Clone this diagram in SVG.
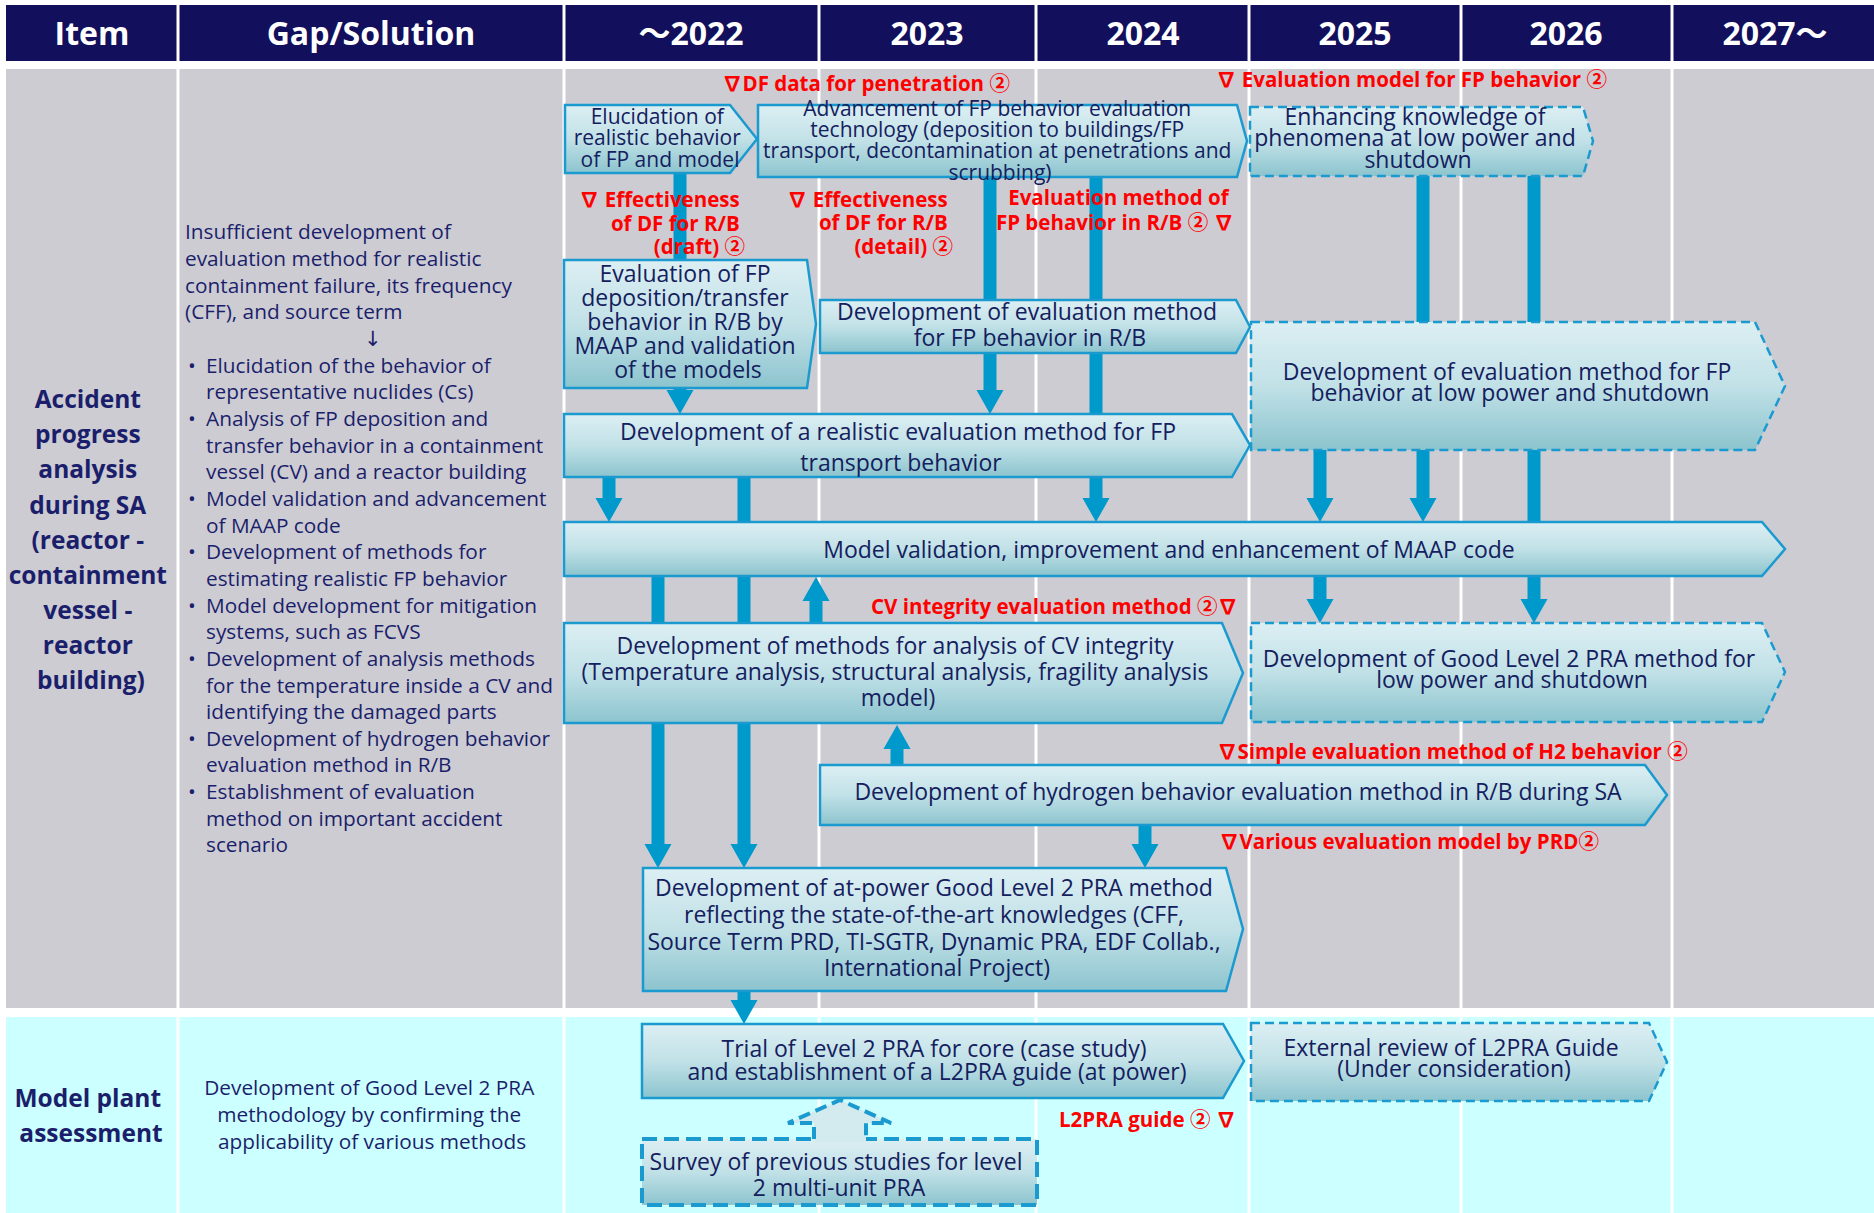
<svg xmlns="http://www.w3.org/2000/svg" width="1874" height="1213" viewBox="0 0 1874 1213">
  <defs>
    <linearGradient id="boxFill" x1="0" y1="0" x2="0" y2="1">
      <stop offset="0" stop-color="#DCEFF3"/>
      <stop offset="0.5" stop-color="#C1E1E7"/>
      <stop offset="1" stop-color="#8CC4CE"/>
    </linearGradient>
    <style>
      .hdr { fill:#120F5C; }
      .hdrTxt { font-family:"Open Sans","DejaVu Sans","Noto Sans CJK JP",sans-serif; font-weight:700; font-size:32px; fill:#FFFFFF; text-anchor:middle; }
      .div { stroke:#FFFFFF; stroke-width:3; }
      .box { fill:url(#boxFill); stroke:#1B9AD0; stroke-width:2.5; stroke-linejoin:miter; }
      .dash { stroke-dasharray:9 5; }
      .thickdash { stroke-width:4; stroke-dasharray:15 7; }
      .t { font-family:"Open Sans","DejaVu Sans","Noto Sans CJK JP",sans-serif; font-size:23px; fill:#14205E; text-anchor:middle; }
      .ts { font-size:21px; }
      .lbl { font-family:"Open Sans","DejaVu Sans","Noto Sans CJK JP",sans-serif; font-weight:700; font-size:24.5px; fill:#1B1F6B; text-anchor:middle; }
      .gap { font-family:"Open Sans","DejaVu Sans","Noto Sans CJK JP",sans-serif; font-size:20.8px; fill:#1B1F6B; }
      .red { font-family:"Open Sans","Noto Sans CJK JP","DejaVu Sans",sans-serif; font-weight:700; font-size:20.5px; fill:#FF0000; }
      .end { text-anchor:end; }
      .flow { fill:#0099CC; }
    </style>
  </defs>

  <!-- page background -->
  <rect x="0" y="0" width="1874" height="1213" fill="#FFFFFF"/>

  <!-- header row -->
  <g id="header">
    <rect class="hdr" x="6" y="5" width="1868" height="56"/>
    <g class="div">
      <line x1="178" y1="5" x2="178" y2="61"/>
      <line x1="564" y1="5" x2="564" y2="61"/>
      <line x1="819" y1="5" x2="819" y2="61"/>
      <line x1="1036" y1="5" x2="1036" y2="61"/>
      <line x1="1249" y1="5" x2="1249" y2="61"/>
      <line x1="1461" y1="5" x2="1461" y2="61"/>
      <line x1="1672" y1="5" x2="1672" y2="61"/>
    </g>
    <text class="hdrTxt" x="92" y="45">Item</text>
    <text class="hdrTxt" x="371" y="45">Gap/Solution</text>
    <text class="hdrTxt" x="691" y="45">～2022</text>
    <text class="hdrTxt" x="927" y="45">2023</text>
    <text class="hdrTxt" x="1143" y="45">2024</text>
    <text class="hdrTxt" x="1355" y="45">2025</text>
    <text class="hdrTxt" x="1566" y="45">2026</text>
    <text class="hdrTxt" x="1775" y="45">2027～</text>
  </g>

  <!-- row backgrounds and column dividers -->
  <g id="rows">
    <rect x="6" y="69" width="1868" height="939" fill="#CDCCD3"/>
    <rect x="6" y="1017" width="1868" height="196" fill="#CCFFFF"/>
    <g class="div">
      <line x1="178" y1="69" x2="178" y2="1213"/>
      <line x1="564" y1="69" x2="564" y2="1213"/>
      <line x1="819" y1="69" x2="819" y2="1213"/>
      <line x1="1036" y1="69" x2="1036" y2="1213"/>
      <line x1="1249" y1="69" x2="1249" y2="1213"/>
      <line x1="1461" y1="69" x2="1461" y2="1213"/>
      <line x1="1672" y1="69" x2="1672" y2="1213"/>
    </g>
  </g>

  <!-- item labels -->
  <g id="item-accident">
    <text class="lbl">
      <tspan x="91" y="408">Accident</tspan>
      <tspan x="91" y="443">progress</tspan>
      <tspan x="91" y="478">analysis</tspan>
      <tspan x="91" y="514">during SA</tspan>
      <tspan x="91" y="549">(reactor -</tspan>
      <tspan x="91" y="584">containment</tspan>
      <tspan x="91" y="619">vessel -</tspan>
      <tspan x="91" y="654">reactor</tspan>
      <tspan x="91" y="689">building)</tspan>
    </text>
  </g>
  <g id="item-model-plant">
    <text class="lbl">
      <tspan x="91" y="1107">Model plant</tspan>
      <tspan x="91" y="1142">assessment</tspan>
    </text>
  </g>

  <!-- gap / solution texts -->
  <g id="gap-accident">
    <text class="gap">
      <tspan x="185" y="239.4">Insufficient development of</tspan>
      <tspan x="185" y="266.1">evaluation method for realistic</tspan>
      <tspan x="185" y="292.7">containment failure, its frequency</tspan>
      <tspan x="185" y="319.4">(CFF), and source term</tspan>
      <tspan x="364" y="346">↓</tspan>
      <tspan x="188" y="372.7">•</tspan><tspan x="206" y="372.7">Elucidation of the behavior of</tspan>
      <tspan x="206" y="399.3">representative nuclides (Cs)</tspan>
      <tspan x="188" y="426">•</tspan><tspan x="206" y="426">Analysis of FP deposition and</tspan>
      <tspan x="206" y="452.6">transfer behavior in a containment</tspan>
      <tspan x="206" y="479.3">vessel (CV) and a reactor building</tspan>
      <tspan x="188" y="505.9">•</tspan><tspan x="206" y="505.9">Model validation and advancement</tspan>
      <tspan x="206" y="532.6">of MAAP code</tspan>
      <tspan x="188" y="559.2">•</tspan><tspan x="206" y="559.2">Development of methods for</tspan>
      <tspan x="206" y="585.9">estimating realistic FP behavior</tspan>
      <tspan x="188" y="612.5">•</tspan><tspan x="206" y="612.5">Model development for mitigation</tspan>
      <tspan x="206" y="639.2">systems, such as FCVS</tspan>
      <tspan x="188" y="665.8">•</tspan><tspan x="206" y="665.8">Development of analysis methods</tspan>
      <tspan x="206" y="692.5">for the temperature inside a CV and</tspan>
      <tspan x="206" y="719.1">identifying the damaged parts</tspan>
      <tspan x="188" y="745.8">•</tspan><tspan x="206" y="745.8">Development of hydrogen behavior</tspan>
      <tspan x="206" y="772.4">evaluation method in R/B</tspan>
      <tspan x="188" y="799.1">•</tspan><tspan x="206" y="799.1">Establishment of evaluation</tspan>
      <tspan x="206" y="825.7">method on important accident</tspan>
      <tspan x="206" y="852.4">scenario</tspan>
    </text>
  </g>
  <g id="gap-model-plant">
    <text class="gap" text-anchor="middle">
      <tspan x="372" y="1095.4">Development of Good Level 2 PRA</tspan>
      <tspan x="372" y="1122.4">methodology by confirming the</tspan>
      <tspan x="372" y="1149.4">applicability of various methods</tspan>
    </text>
  </g>

  <!-- connectors: block arrows and bars between tasks -->
  <g id="connectors">
    <rect class="flow" x="673.5" y="173" width="13" height="87"/>
    <path class="flow" d="M673.5,388 H686.5 V390 H693.5 L680,414 L666.5,390 H673.5 Z"/>
    <path class="flow" d="M983.5,177 H996.5 V390 H1003.5 L990,414 L976.5,390 H983.5 Z"/>
    <path class="flow" d="M1089.5,177 H1102.5 V498 H1109.5 L1096,522 L1082.5,498 H1089.5 Z"/>
    <rect class="flow" x="1416.5" y="175" width="13" height="148"/>
    <rect class="flow" x="1527.5" y="175" width="13" height="148"/>
    <path class="flow" d="M1313.5,449 H1326.5 V498 H1333.5 L1320,522 L1306.5,498 H1313.5 Z"/>
    <path class="flow" d="M1416.5,449 H1429.5 V498 H1436.5 L1423,522 L1409.5,498 H1416.5 Z"/>
    <rect class="flow" x="1527.5" y="449" width="13" height="74"/>
    <path class="flow" d="M1313.5,575 H1326.5 V599 H1333.5 L1320,623 L1306.5,599 H1313.5 Z"/>
    <path class="flow" d="M1527.5,575 H1540.5 V599 H1547.5 L1534,623 L1520.5,599 H1527.5 Z"/>
    <path class="flow" d="M602.5,476 H615.5 V498 H622.5 L609,522 L595.5,498 H602.5 Z"/>
    <path class="flow" d="M737.5,476 H750.5 V844 H757.5 L744,868 L730.5,844 H737.5 Z"/>
    <path class="flow" d="M651.5,575 H664.5 V844 H671.5 L658,868 L644.5,844 H651.5 Z"/>
    <path class="flow" d="M809.5,624 H822.5 V601 H829.5 L816,577 L802.5,601 H809.5 Z"/>
    <path class="flow" d="M890.5,766 H903.5 V749 H910.5 L897,725 L883.5,749 H890.5 Z"/>
    <path class="flow" d="M1138.5,824 H1151.5 V844 H1158.5 L1145,868 L1131.5,844 H1138.5 Z"/>
    <path class="flow" d="M737.5,990 H750.5 V1000 H757.5 L744,1024 L730.5,1000 H737.5 Z"/>
  </g>

  <!-- tasks -->
  <g id="task-elucidation">
    <path class="box" d="M565,105 H730 L757,139 L730,173 H565 Z"/>
    <text class="t ts">
      <tspan x="660" y="123.6">Elucidation of</tspan>
      <tspan x="660" y="144.6">realistic behavior</tspan>
      <tspan x="660" y="166.6">of FP and model</tspan>
    </text>
  </g>
  <g id="task-advancement">
    <path class="box" d="M758,105 H1237 L1247,141 L1237,177 H758 Z"/>
    <text class="t ts">
      <tspan x="1000" y="115.6">Advancement of FP behavior evaluation</tspan>
      <tspan x="1000" y="136.6">technology (deposition to buildings/FP</tspan>
      <tspan x="1000" y="157.6">transport, decontamination at penetrations and</tspan>
      <tspan x="1000" y="179.6">scrubbing)</tspan>
    </text>
  </g>
  <g id="task-enhancing">
    <path class="box dash" d="M1250,107 H1583 L1593,141 L1583,176 H1250 Z"/>
    <text class="t">
      <tspan x="1418" y="125.3">Enhancing knowledge of</tspan>
      <tspan x="1418" y="146.3">phenomena at low power and</tspan>
      <tspan x="1418" y="168.3">shutdown</tspan>
    </text>
  </g>
  <g id="task-fp-deposition">
    <path class="box" d="M564,260 H807 L816,324 L807,388 H564 Z"/>
    <text class="t">
      <tspan x="688" y="282.3">Evaluation of FP</tspan>
      <tspan x="688" y="306.3">deposition/transfer</tspan>
      <tspan x="688" y="330.3">behavior in R/B by</tspan>
      <tspan x="688" y="354.3">MAAP and validation</tspan>
      <tspan x="688" y="378.3">of the models</tspan>
    </text>
  </g>
  <g id="task-fp-rb">
    <path class="box" d="M820,300 H1236 L1250,327 L1236,353 H820 Z"/>
    <text class="t">
      <tspan x="1030" y="320.3">Development of evaluation method</tspan>
      <tspan x="1030" y="346.3">for FP behavior in R/B</tspan>
    </text>
  </g>
  <g id="task-fp-lowpower">
    <path class="box dash" d="M1251,322 H1755 L1785,386 L1755,450 H1251 Z"/>
    <text class="t">
      <tspan x="1510" y="380.3">Development of evaluation method for FP</tspan>
      <tspan x="1510" y="401.3">behavior at low power and shutdown</tspan>
    </text>
  </g>
  <g id="task-fp-transport">
    <path class="box" d="M564,414 H1232 L1250,445 L1232,477 H564 Z"/>
    <text class="t">
      <tspan x="901" y="440.3">Development of a realistic evaluation method for FP</tspan>
      <tspan x="901" y="471.3">transport behavior</tspan>
    </text>
  </g>
  <g id="task-maap">
    <path class="box" d="M564,522 H1762 L1785,549 L1762,576 H564 Z"/>
    <text class="t" x="1169" y="558.3">Model validation, improvement and enhancement of MAAP code</text>
  </g>
  <g id="task-cv-integrity">
    <path class="box" d="M564,623 H1222 L1243,673 L1222,723 H564 Z"/>
    <text class="t">
      <tspan x="898" y="654.3">Development of methods for analysis of CV integrity</tspan>
      <tspan x="898" y="680.3">(Temperature analysis, structural analysis, fragility analysis</tspan>
      <tspan x="898" y="706.3">model)</tspan>
    </text>
  </g>
  <g id="task-l2pra-lowpower">
    <path class="box dash" d="M1251,623 H1762 L1785,672 L1762,722 H1251 Z"/>
    <text class="t">
      <tspan x="1512" y="667.3">Development of Good Level 2 PRA method for</tspan>
      <tspan x="1512" y="688.3">low power and shutdown</tspan>
    </text>
  </g>
  <g id="task-hydrogen">
    <path class="box" d="M820,765 H1645 L1667,795 L1645,825 H820 Z"/>
    <text class="t" x="1238" y="800.3">Development of hydrogen behavior evaluation method in R/B during SA</text>
  </g>
  <g id="task-l2pra-atpower">
    <path class="box" d="M643,868 H1226 L1243,929 L1226,991 H643 Z"/>
    <text class="t">
      <tspan x="937" y="896.3">Development of at-power Good Level 2 PRA method</tspan>
      <tspan x="937" y="923.3">reflecting the state-of-the-art knowledges (CFF,</tspan>
      <tspan x="937" y="950.3">Source Term PRD, TI-SGTR, Dynamic PRA, EDF Collab.,</tspan>
      <tspan x="937" y="976.3">International Project)</tspan>
    </text>
  </g>
  <g id="task-l2pra-trial">
    <path class="box" d="M642,1024 H1223 L1244,1061 L1223,1098 H642 Z"/>
    <text class="t">
      <tspan x="937" y="1057.3">Trial of Level 2 PRA for core (case study)</tspan>
      <tspan x="937" y="1080.3">and establishment of a L2PRA guide (at power)</tspan>
    </text>
  </g>
  <g id="task-external-review">
    <path class="box dash" d="M1251,1023 H1649 L1667,1062 L1649,1101 H1251 Z"/>
    <text class="t">
      <tspan x="1454" y="1056.3">External review of L2PRA Guide</tspan>
      <tspan x="1454" y="1077.3">(Under consideration)</tspan>
    </text>
  </g>
  <g id="task-multi-unit">
    <rect class="box thickdash" x="642" y="1139" width="395" height="66"/>
    <text class="t">
      <tspan x="839" y="1170.3">Survey of previous studies for level</tspan>
      <tspan x="839" y="1196.3">2 multi-unit PRA</tspan>
    </text>
  </g>

  <!-- hollow dashed arrow: survey feeds the L2PRA trial -->
  <g id="link-multi-unit">
    <path d="M814,1142 V1123 H788 L840,1100 L891,1123 H866 V1142 Z" fill="#D3EAEF"/>
    <path d="M814,1139 V1123 H788 L840,1100 L891,1123 H866 V1139" fill="none" stroke="#1B9AD0" stroke-width="4" stroke-dasharray="12 6"/>
  </g>

  <!-- milestones -->
  <g id="milestones">
    <text class="red" x="722" y="91.2">∇DF data for penetration ②</text>
    <text class="red" x="1216" y="87.2">∇ Evaluation model for FP behavior ②</text>
    <text class="red end">
      <tspan x="745" y="207.2">∇ Effectiveness</tspan>
      <tspan x="745" y="231.2">of DF for R/B</tspan>
      <tspan x="745" y="254.2">(draft) ②</tspan>
    </text>
    <text class="red end">
      <tspan x="953" y="207.2">∇ Effectiveness</tspan>
      <tspan x="953" y="230.2">of DF for R/B</tspan>
      <tspan x="953" y="254.2">(detail) ②</tspan>
    </text>
    <text class="red end">
      <tspan x="1234" y="205.2">Evaluation method of</tspan>
      <tspan x="1234" y="230.2">FP behavior in R/B ② ∇</tspan>
    </text>
    <text class="red" x="871" y="614.2">CV integrity evaluation method ②∇</text>
    <text class="red" x="1217" y="759.2">∇Simple evaluation method of H2 behavior ②</text>
    <text class="red" x="1219" y="849.2">∇Various evaluation model by PRD②</text>
    <text class="red" x="1059" y="1127.2">L2PRA guide ② ∇</text>
  </g>
</svg>
